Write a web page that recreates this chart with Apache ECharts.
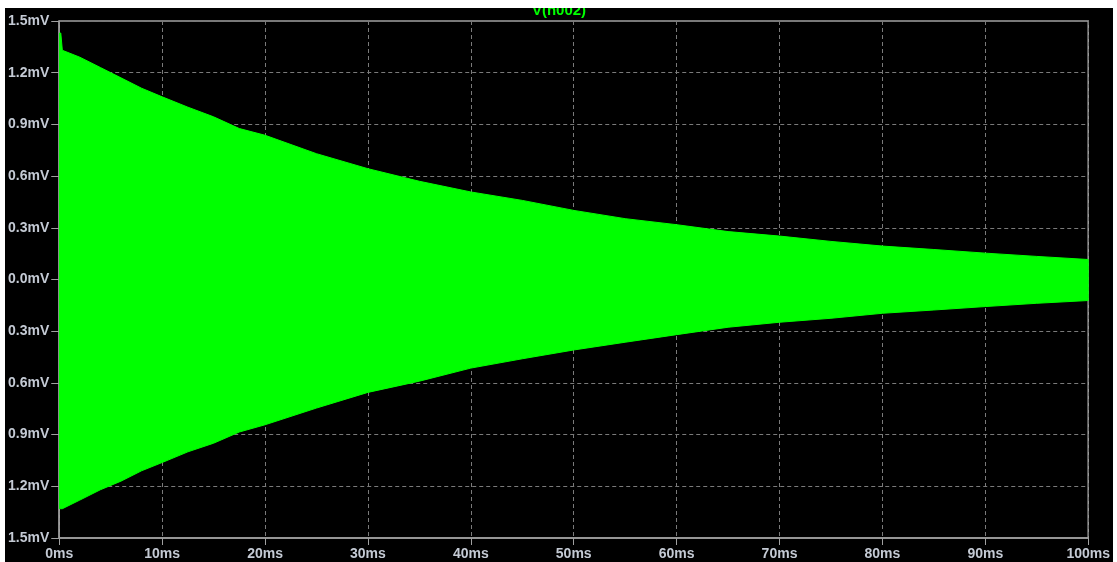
<!DOCTYPE html>
<html>
<head>
<meta charset="utf-8">
<title>V(n002)</title>
<script src="https://cdn.jsdelivr.net/npm/echarts@6/dist/echarts.min.js"></script>
<style>
  html, body { margin: 0; padding: 0; background: #ffffff; width: 1117px; height: 562px; overflow: hidden; }
  #chart { position: absolute; left: 5px; top: 8px; width: 1108px; height: 554px; }
</style>
</head>
<body>
<div id="chart"></div>
<script>
// Transient of V(n002): envelope of the decaying ringing, in mV, sampled in ms
const timeMs = [0, 0.15, 0.3, 2, 4, 6, 8, 10, 12.5, 15, 17.5, 20, 25, 30, 35, 40, 45, 50, 55, 60, 65, 70, 75, 80, 85, 90, 95, 100];
const upperMv = [1.43, 1.43, 1.33, 1.29, 1.23, 1.17, 1.11, 1.06, 1.00, 0.944, 0.876, 0.837, 0.73, 0.643, 0.57, 0.508, 0.459, 0.401, 0.353, 0.318, 0.278, 0.252, 0.221, 0.194, 0.174, 0.153, 0.134, 0.116];
const lowerMv = [-1.33, -1.33, -1.33, -1.28, -1.22, -1.17, -1.11, -1.062, -1.00, -0.95, -0.885, -0.843, -0.746, -0.655, -0.59, -0.514, -0.46, -0.409, -0.364, -0.32, -0.277, -0.248, -0.225, -0.196, -0.177, -0.157, -0.138, -0.122];

const traceName = 'V(n002)';
const xTicks = { min: 0, max: 100, step: 10, unit: 'ms' };
const yTicks = { min: -1.5, max: 1.5, step: 0.3, unit: 'mV' };

const labelColor = '#c4cad4';
const frameColor = '#a0a0a0';
const gridColor = '#7a7a7a';
const traceColor = '#00ff00';
const labelFont = '"Liberation Sans", Arial, sans-serif';

const chart = echarts.init(document.getElementById('chart'), null, { renderer: 'canvas' });

chart.setOption({
  backgroundColor: '#000000',
  animation: false,
  graphic: [{
    type: 'text',
    left: 'center',
    top: -5,
    style: {
      text: traceName,
      fill: traceColor,
      font: 'bold 15px ' + labelFont
    }
  }],
  grid: {
    left: 53, top: 13, right: 22, bottom: 24,
    show: true,
    borderColor: frameColor,
    borderWidth: 1.5,
    backgroundColor: 'transparent'
  },
  xAxis: {
    type: 'value',
    min: xTicks.min, max: xTicks.max, interval: xTicks.step,
    axisLine: { show: true, onZero: false, lineStyle: { color: frameColor, width: 1.5 } },
    axisTick: { show: true, length: 7, lineStyle: { color: frameColor } },
    axisLabel: {
      color: labelColor, margin: 9,
      fontFamily: labelFont, fontWeight: 'bold', fontSize: 14,
      showMaxLabel: true, showMinLabel: true,
      formatter: v => Math.round(v) + xTicks.unit
    },
    splitLine: { show: true, lineStyle: { color: gridColor, type: [4, 3], width: 1 } }
  },
  yAxis: {
    type: 'value',
    min: yTicks.min, max: yTicks.max, interval: yTicks.step,
    axisLine: { show: true, onZero: false, lineStyle: { color: frameColor, width: 1.5 } },
    axisTick: { show: true, length: 8, lineStyle: { color: frameColor } },
    axisLabel: {
      color: labelColor, margin: 10,
      fontFamily: labelFont, fontWeight: 'bold', fontSize: 14,
      formatter: v => Math.abs(v).toFixed(1) + yTicks.unit
    },
    splitLine: { show: true, lineStyle: { color: gridColor, type: [4, 3], width: 1 } }
  },
  series: [{
    name: traceName,
    type: 'custom',
    clip: true,
    data: [[0, 0]],
    renderItem: function (params, api) {
      const pts = [];
      for (let i = 0; i < timeMs.length; i++) pts.push(api.coord([timeMs[i], upperMv[i]]));
      for (let i = timeMs.length - 1; i >= 0; i--) pts.push(api.coord([timeMs[i], lowerMv[i]]));
      return {
        type: 'polygon',
        shape: { points: pts },
        style: { fill: traceColor, stroke: traceColor, lineWidth: 1 }
      };
    }
  }]
});
</script>
</body>
</html>
